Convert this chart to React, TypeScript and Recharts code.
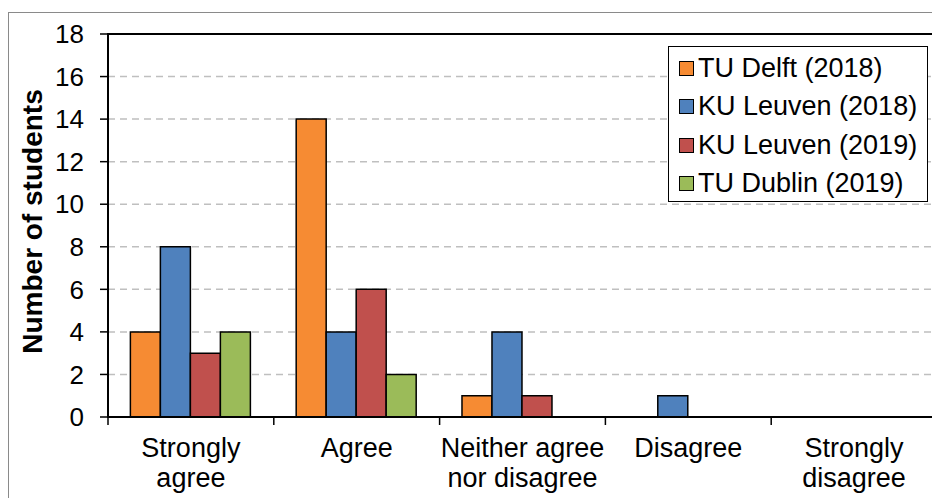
import React from "react";
import { BarChart, Bar, XAxis, YAxis, CartesianGrid, Legend, ReferenceArea } from "recharts";

const categories = ["Strongly agree", "Agree", "Neither agree nor disagree", "Disagree", "Strongly disagree"];
const categoryLines = [["Strongly", "agree"], ["Agree"], ["Neither agree", "nor disagree"], ["Disagree"], ["Strongly", "disagree"]];
const tuDelft2018 = [4, 14, 1, 0, 0];
const kuLeuven2018 = [8, 4, 4, 1, 0];
const kuLeuven2019 = [3, 6, 1, 0, 0];
const tuDublin2019 = [4, 2, 0, 0, 0];
const yTicks = [0, 2, 4, 6, 8, 10, 12, 14, 16, 18];

const FONT = '"Liberation Sans", Arial, sans-serif';

const series = [
  { key: "tuDelft2018", name: "TU Delft (2018)", color: "#F68B33", values: tuDelft2018 },
  { key: "kuLeuven2018", name: "KU Leuven (2018)", color: "#4F81BD", values: kuLeuven2018 },
  { key: "kuLeuven2019", name: "KU Leuven (2019)", color: "#C0504D", values: kuLeuven2019 },
  { key: "tuDublin2019", name: "TU Dublin (2019)", color: "#9BBB59", values: tuDublin2019 },
];

const data = categories.map((category, i) => {
  const row: Record<string, any> = { category };
  series.forEach((s) => (row[s.key] = s.values[i]));
  return row;
});

// category labels centred, tick marks on the band edges (Excel style)
const XTick = (props: any) => {
  const { x, y, payload } = props;
  const idx = categories.indexOf(payload.value);
  const half = payload.offset ?? props.width / categories.length / 2;
  const lines = categoryLines[idx] || [payload.value];
  return (
    <g>
      <line x1={x - half} x2={x - half} y1={y - 8} y2={y} stroke="#000" strokeWidth={1.5} />
      {idx === categories.length - 1 && (
        <line x1={x + half} x2={x + half} y1={y - 8} y2={y} stroke="#000" strokeWidth={1.5} />
      )}
      <text x={x} y={y + 32} textAnchor="middle" fontSize={27} fontFamily={FONT} fill="#000">
        {lines.map((l, i) => (
          <tspan key={i} x={x} dy={i === 0 ? 0 : 30}>
            {l}
          </tspan>
        ))}
      </text>
    </g>
  );
};

const LegendBox = () => (
  <div
    style={{
      width: 260,
      height: 156,
      boxSizing: "border-box",
      border: "1.5px solid #000",
      background: "#fff",
      paddingTop: 2,
      fontFamily: FONT,
      fontSize: 27,
      color: "#000",
    }}
  >
    {series.map((s) => (
      <div key={s.key} style={{ height: 38.5, display: "flex", alignItems: "center", paddingLeft: 10 }}>
        <span
          style={{
            width: 15,
            height: 15,
            boxSizing: "border-box",
            background: s.color,
            border: "1px solid #000",
            marginRight: 4,
            flexShrink: 0,
          }}
        />
        <span style={{ lineHeight: 1, whiteSpace: "nowrap" }}>{s.name}</span>
      </div>
    ))}
  </div>
);

const YTitle = (props: any) => {
  const vb = props.viewBox || { x: 0, y: 26, width: 100, height: 383 };
  const cx = vb.x + 24;
  const cy = vb.y + vb.height / 2 - 4;
  return (
    <text
      x={cx}
      y={cy}
      transform={`rotate(-90, ${cx}, ${cy})`}
      textAnchor="middle"
      dominantBaseline="central"
      fontSize={28}
      fontWeight="bold"
      fontFamily={FONT}
      fill="#000"
    >
      Number of students
    </text>
  );
};

export default function App() {
  return (
    <div style={{ position: "relative", width: 932, height: 490 }}>
      <div
        style={{
          position: "absolute",
          top: 4,
          left: 0,
          width: 960,
          height: 520,
          borderTop: "1.5px solid #8a8a8a",
          borderLeft: "1.5px solid #8a8a8a",
          pointerEvents: "none",
        }}
      />
      <BarChart
        width={932}
        height={490}
        data={data}
        margin={{ top: 26, right: 3, bottom: 0, left: 0 }}
        barCategoryGap="13.5%"
        barGap={0}
      >
        <CartesianGrid vertical={false} stroke="#BFBFBF" strokeDasharray="7 5" strokeWidth={1.5} />
        <XAxis
          dataKey="category"
          height={81}
          axisLine={{ stroke: "#000", strokeWidth: 2 }}
          tickLine={false}
          tickSize={8}
          tickMargin={0}
          interval={0}
          tick={<XTick />}
        />
        <YAxis
          width={100}
          domain={[0, 18]}
          ticks={yTicks}
          interval={0}
          axisLine={{ stroke: "#000", strokeWidth: 2 }}
          tickLine={{ stroke: "#000", strokeWidth: 1.5 }}
          tickSize={8}
          tickMargin={16}
          tick={{ fill: "#000", fontSize: 26, fontFamily: FONT }}
          label={{ content: <YTitle /> }}
        />
        {series.map((s) => (
          <Bar
            key={s.key}
            dataKey={s.key}
            name={s.name}
            fill={s.color}
            stroke="#000"
            strokeWidth={1.5}
            isAnimationActive={false}
          />
        ))}
        <ReferenceArea y1={0} y2={18} fill="none" stroke="#000" strokeWidth={2} ifOverflow="visible" />
        <Legend
          layout="vertical"
          align="center"
          verticalAlign="middle"
          content={<LegendBox />}
          wrapperStyle={{ position: "absolute", left: 660, top: 38, width: 260, height: 156 }}
        />
      </BarChart>
    </div>
  );
}
